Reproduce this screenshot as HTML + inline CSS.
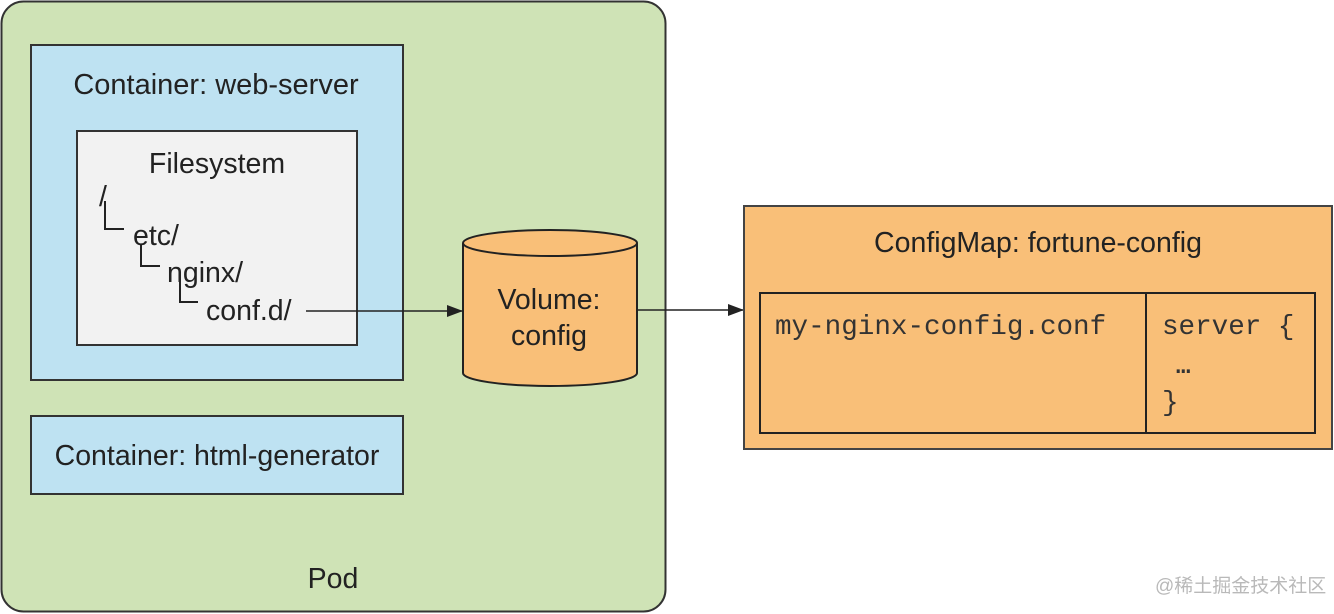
<!DOCTYPE html>
<html><head><meta charset="utf-8"><style>
html,body{margin:0;padding:0;background:#fff;width:1334px;height:614px;overflow:hidden}
text{font-family:"Liberation Sans",sans-serif;fill:#222}
.m{font-family:"Liberation Mono",monospace;fill:#333}
</style></head><body>
<svg width="1334" height="614" viewBox="0 0 1334 614" xmlns="http://www.w3.org/2000/svg">
<defs><marker id="a" markerWidth="16" markerHeight="12" refX="15" refY="6" orient="auto" markerUnits="userSpaceOnUse"><path d="M0,0 L16,6 L0,12 Z" fill="#222"/></marker></defs>
<rect x="1.5" y="1.5" width="664" height="610" rx="22" fill="#cfe3b6" stroke="#333" stroke-width="2"/>
<rect x="31" y="45" width="372" height="335" fill="#bee2f2" stroke="#333" stroke-width="2"/>
<text x="216" y="94" font-size="29" text-anchor="middle">Container: web-server</text>
<rect x="77" y="131" width="280" height="214" fill="#f2f2f2" stroke="#333" stroke-width="2"/>
<text x="217" y="173" font-size="28.5" text-anchor="middle">Filesystem</text>
<text x="99" y="206" font-size="28.5">/</text>
<path d="M105,201 V229 H124 M141,244 V266 H160 M180,280 V302 H198" fill="none" stroke="#222" stroke-width="2"/>
<text x="133" y="245" font-size="28.5">etc/</text>
<text x="167" y="282" font-size="28.5">nginx/</text>
<text x="206" y="320" font-size="28.5">conf.d/</text>
<line x1="306" y1="311" x2="462" y2="311" stroke="#222" stroke-width="1.5" marker-end="url(#a)"/>
<rect x="31" y="416" width="372" height="78" fill="#bee2f2" stroke="#333" stroke-width="2"/>
<text x="217" y="465" font-size="28.5" text-anchor="middle">Container: html-generator</text>
<text x="333" y="588" font-size="28.5" text-anchor="middle">Pod</text>
<path d="M463,243 V373 A87,13 0 0 0 637,373 V243" fill="#f9bf78" stroke="#222" stroke-width="2"/>
<ellipse cx="550" cy="243" rx="87" ry="13" fill="#f9bf78" stroke="#222" stroke-width="2"/>
<text x="549" y="309" font-size="28.5" text-anchor="middle">Volume:</text>
<text x="549" y="345" font-size="28.5" text-anchor="middle">config</text>
<line x1="637" y1="310" x2="743" y2="310" stroke="#222" stroke-width="1.5" marker-end="url(#a)"/>
<rect x="744" y="206" width="588" height="243" fill="#f9bf78" stroke="#444" stroke-width="2"/>
<text x="1038" y="252" font-size="28.5" text-anchor="middle">ConfigMap: fortune-config</text>
<rect x="760" y="293" width="555" height="140" fill="#f9bf78" stroke="#222" stroke-width="2"/>
<line x1="1146" y1="293" x2="1146" y2="433" stroke="#222" stroke-width="2"/>
<text class="m" x="775" y="334" font-size="27.6">my-nginx-config.conf</text>
<text class="m" x="1162" y="334" font-size="27.6">server {</text>
<text class="m" x="1176" y="373" font-size="24" font-weight="bold">…</text>
<text class="m" x="1162" y="410" font-size="27.6">}</text>
<text x="1155" y="592" font-size="19" style="fill:#b9b9b9;font-family:'Liberation Sans','Noto Sans CJK SC',sans-serif">@稀土掘金技术社区</text>
</svg>
</body></html>
